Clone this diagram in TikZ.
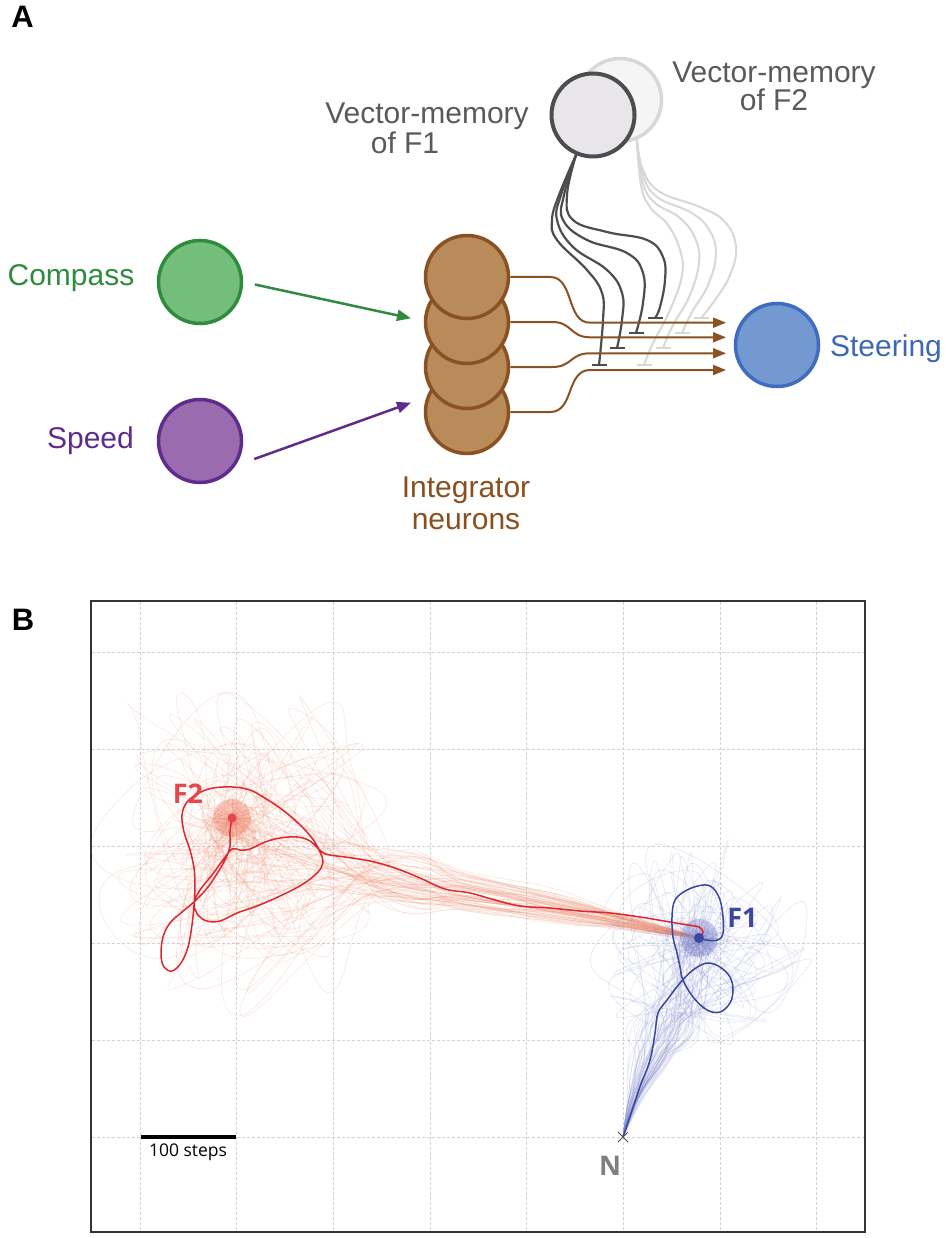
\documentclass[tikz,border=0pt]{standalone}
\usepackage{fontspec}
\setmainfont{Liberation Sans}
\newfontfamily\osf{Open Sans}
\usetikzlibrary{arrows.meta}
\definecolor{cgreen}{HTML}{2F8C3E}
\definecolor{cgreenf}{HTML}{74BE7B}
\definecolor{cpurp}{HTML}{5E2D8C}
\definecolor{cpurpf}{HTML}{9A6BAE}
\definecolor{cbrown}{HTML}{8A5222}
\definecolor{cbrownf}{HTML}{B98B58}
\definecolor{cbrownt}{HTML}{8A4F1D}
\definecolor{cblue}{HTML}{3F6CBF}
\definecolor{cbluef}{HTML}{7399D0}
\definecolor{cbluet}{HTML}{3D68B8}
\definecolor{cgrayd}{HTML}{4D4D4F}
\definecolor{cgrayf}{HTML}{E8E6E8}
\definecolor{cgrayl}{HTML}{D8D8D8}
\definecolor{cgraylf}{HTML}{F5F5F5}
\definecolor{ctext}{HTML}{5A5A5C}
\definecolor{cred}{HTML}{E0272C}
\definecolor{credl}{HTML}{E2484E}
\definecolor{credfaint}{HTML}{F08A6A}
\definecolor{cnavy}{HTML}{3B46A0}
\definecolor{cnavyfaint}{HTML}{7F86CC}
\definecolor{cgrid}{HTML}{D2D2D2}
\definecolor{cN}{HTML}{7F7F7F}
\begin{document}
\begin{tikzpicture}[x=1pt,y=-1pt,
  circ/.style={circle,minimum size=83pt,inner sep=0pt,line width=3.5pt},
  big/.style={font=\fontsize{30}{34}\selectfont,inner sep=0pt,anchor=base},
  panellbl/.style={font=\fontsize{31}{34}\selectfont\bfseries,inner sep=0pt},
  brownarr/.style={draw=cbrown,line width=2pt,-{Triangle[length=13pt,width=10pt]}},
  inhd/.style={draw=cgrayd,line width=2.2pt},
  inhl/.style={draw=cgrayl,line width=2pt},
  gridst/.style={draw=cgrid,line width=0.9pt,dash pattern=on 3pt off 2pt},
  faintred/.style={draw=credfaint,line width=0.6pt,opacity=0.2},
  faintblue/.style={draw=cnavyfaint,line width=0.6pt,opacity=0.2},
  boldred/.style={draw=cred,line width=1.5pt},
  boldblue/.style={draw=cnavy,line width=1.5pt},
  blbl/.style={font=\osf\bfseries\fontsize{27}{30}\selectfont,inner sep=0pt}
]
\useasboundingbox (0,0) rectangle (945,1238);
\fill[white] (0,0) rectangle (945,1238);

% ---------------- Panel A ----------------
\node[panellbl] (labA) at (22.5,17) {A};

% vector memory of F2 (behind)
\node[circ,draw=cgrayl,fill=cgraylf] (m2) at (620,100) {};
\draw[inhl] plot[smooth,tension=0.7] coordinates {(m2.-67) (643,170) (660,192) (700,207) (725,222) (736,247) (730,275) (715,300) (701,318)};
\draw[inhl] plot[smooth,tension=0.7] coordinates {(m2.-67) (643,175) (657,197) (690,212) (708,228) (716,253) (708,285) (692,312) (682,333)};
\draw[inhl] plot[smooth,tension=0.7] coordinates {(m2.-67) (642,180) (654,202) (680,218) (695,238) (699,262) (690,295) (673,325) (663,348)};
\draw[inhl] plot[smooth,tension=0.7] coordinates {(m2.-67) (641,185) (650,207) (668,225) (680,250) (682,275) (670,310) (653,343) (644,365)};
\coordinate (lb1) at (701,318);
\coordinate (lb2) at (682,333);
\coordinate (lb3) at (663,348);
\coordinate (lb4) at (644,365);
\foreach \b in {lb1,lb2,lb3,lb4} \draw[inhl] (\b) ++(-7.5,0) -- ++(15,0);

% vector memory of F1
\node[circ,draw=cgrayd,fill=cgrayf,line width=4pt] (m1) at (593,115) {};
\draw[inhd] plot[smooth,tension=0.7] coordinates {(m1.-113) (567,195) (573,220) (607,232) (647,240) (663,257) (665,280) (660,307) (655,318)};
\draw[inhd] plot[smooth,tension=0.7] coordinates {(m1.-113) (564,195) (563,220) (587,240) (627,253) (643,273) (643,303) (636,333)};
\draw[inhd] plot[smooth,tension=0.7] coordinates {(m1.-113) (561,195) (557,220) (573,247) (607,270) (622,293) (622,320) (617,348)};
\draw[inhd] plot[smooth,tension=0.7] coordinates {(m1.-113) (559,195) (552,220) (557,240) (587,270) (602,293) (603,320) (599,365)};
\coordinate (db1) at (655,318);
\coordinate (db2) at (636,333);
\coordinate (db3) at (617,348);
\coordinate (db4) at (599,365);
\foreach \b in {db1,db2,db3,db4} \draw[inhd] (\b) ++(-7.5,0) -- ++(15,0);

% input circles
\node[circ,draw=cgreen,fill=cgreenf] (compass) at (200,282) {};
\node[circ,draw=cpurp,fill=cpurpf] (speed) at (200,441) {};
\foreach \n/\yy in {4/412,3/367,2/322,1/277}
  \node[circ,draw=cbrown,fill=cbrownf] (int\n) at (467,\yy) {};
\node[circ,draw=cblue,fill=cbluef] (steer) at (777,345) {};

% input arrows
\coordinate (g1) at (411,318.3);
\coordinate (p1) at (411,402.7);
\draw[draw=cgreen,line width=2.5pt,shorten <=12pt,-{Triangle[length=14pt,width=11pt]}] (compass.east) -- (g1);
\draw[draw=cpurp,line width=2.5pt,shorten <=20pt,-{Triangle[length=14pt,width=11pt]}] (speed.-35) -- (p1);

% integrator -> steering
\coordinate (a1) at (726,322.7);
\coordinate (a2) at (726,337.3);
\coordinate (a3) at (726,353.3);
\coordinate (a4) at (726,370);
\draw[brownarr] (int1.east) -- ++(40,0) .. controls +(24,0) and +(-24,0) .. (590,322.7) -- (a1);
\draw[brownarr] (int2.east) -- ++(42,0) .. controls +(20,0) and +(-20,0) .. (590,337.3) -- (a2);
\draw[brownarr] (int3.east) -- ++(42,0) .. controls +(20,0) and +(-20,0) .. (590,353.3) -- (a3);
\draw[brownarr] (int4.east) -- ++(40,0) .. controls +(24,0) and +(-24,0) .. (590,370) -- (a4);

% labels
\node[big,text=cgreen] (tcomp) at (71,286) {Compass};
\node[big,text=cpurp] (tspeed) at (90.5,448) {Speed};
\node[big,text=cbrownt] (tint1) at (466,497) {Integrator};
\node[big,text=cbrownt] (tint2) at (466,529) {neurons};
\node[big,text=cbluet] (tsteer) at (886,356) {Steering};
\node[big,text=ctext] (tm1a) at (427,124) {Vector-memory};
\node[big,text=ctext] (tm1b) at (405,154) {of F1};
\node[big,text=ctext] (tm2a) at (774,83) {Vector-memory};
\node[big,text=ctext] (tm2b) at (774,111) {of F2};

% ---------------- Panel B ----------------
\node[panellbl] (labB) at (23,620) {B};
\foreach \i in {0,...,7} \draw[gridst] ({140+96.7*\i},602) -- ({140+96.7*\i},1231);
\foreach \j in {0,...,5} \draw[gridst] (92,{652+97*\j}) -- (864,{652+97*\j});
\draw[line width=1.5pt,draw=black!80] (91,601) rectangle (865,1232);

\coordinate (F1) at (699,938);
\coordinate (F2) at (232,818);
\coordinate (N) at (623,1137);

\pgfmathsetseed{7}
% faint red trajectories (F1 -> F2 searches)
\foreach \k in {1,...,85}{
  \pgfmathsetmacro\off{rand}
  \pgfmathsetmacro\ya{925+5*\off+3*rand}
  \pgfmathsetmacro\yb{908+13*\off+5*rand}
  \pgfmathsetmacro\yc{892+18*\off+6*rand}
  \pgfmathsetmacro\yd{876+24*\off+8*rand}
  \pgfmathsetmacro\ra{150*rnd^0.8}\pgfmathsetmacro\ta{360*rnd}
  \pgfmathsetmacro\xe{250+\ra*cos(\ta)}\pgfmathsetmacro\ye{845+1.15*\ra*sin(\ta)}
  \pgfmathsetmacro\rb{145*rnd^0.8}\pgfmathsetmacro\tb{360*rnd}
  \pgfmathsetmacro\xf{245+\rb*cos(\tb)}\pgfmathsetmacro\yf{840+1.15*\rb*sin(\tb)}
  \pgfmathsetmacro\rc{115*rnd}\pgfmathsetmacro\tc{360*rnd}
  \pgfmathsetmacro\xg{240+\rc*cos(\tc)}\pgfmathsetmacro\yg{838+1.1*\rc*sin(\tc)}
  \pgfmathsetmacro\xh{232+25*rand}\pgfmathsetmacro\yh{828+15*rand}
  \draw[faintred] plot[smooth,tension=0.8] coordinates {(F1) (640,\ya) (560,\yb) (470,\yc) (380,\yd) (\xe,\ye) (\xf,\yf) (\xg,\yg) (\xh,\yh) (F2)};
}
% faint blue trajectories (N -> F1 searches)
\foreach \k in {1,...,75}{
  \pgfmathsetmacro\off{rand}
  \pgfmathsetmacro\xa{634+6*\off+3*rand}
  \pgfmathsetmacro\xb{650+16*\off+6*rand}
  \pgfmathsetmacro\xc{670+30*\off+8*rand}
  \pgfmathsetmacro\ra{112*rnd^0.8}\pgfmathsetmacro\ta{360*rnd}
  \pgfmathsetmacro\xe{700+\ra*cos(\ta)}\pgfmathsetmacro\ye{945+\ra*sin(\ta)}
  \pgfmathsetmacro\rb{100*rnd}\pgfmathsetmacro\tb{360*rnd}
  \pgfmathsetmacro\xf{700+\rb*cos(\tb)}\pgfmathsetmacro\yf{945+\rb*sin(\tb)}
  \pgfmathsetmacro\xh{699+18*rand}\pgfmathsetmacro\yh{945+14*rand}
  \draw[faintblue] plot[smooth,tension=0.8] coordinates {(N) (\xa,1100) (\xb,1060) (\xc,1015) (\xe,\ye) (\xf,\yf) (\xh,\yh) (F1)};
}

% halos
\fill[credfaint,opacity=0.4] (F2) circle[radius=19pt];
\foreach \a in {0,15,...,345} \draw[draw=credl,opacity=0.2,line width=0.5pt] (F2) -- ++(\a:19);
\fill[cnavyfaint,opacity=0.4] (F1) circle[radius=19pt];
\foreach \a in {0,15,...,345} \draw[draw=cnavy,opacity=0.15,line width=0.5pt] (F1) -- ++(\a:19);

% bold red trajectory
\draw[boldred] plot[smooth,tension=0.6] coordinates {(F1) (703,932) (699,927) (688,925) (670,922) (640,917) (610,913) (580,911) (550,908) (520,906) (495,900) (470,893) (445,889) (420,878) (395,868) (370,861) (345,857) (330,855) (322,852) (310,841) (297,837) (280,838) (265,842) (250,849) (240,850) (232,849) (223,860) (212,875) (200,890) (194,903) (198,915) (207,921) (220,921) (237,913) (257,906) (280,896) (303,884) (318,872) (323,862) (320,852) (312,838) (297,822) (280,808) (263,797) (250,790) (233,787) (213,788) (199,793) (187,802) (182,815) (184,832) (190,850) (194,868) (195,886) (194,905) (192,925) (188,947) (181,963) (172,971) (164,967) (161,955) (163,937) (170,923) (182,912) (195,901) (208,887) (218,872) (226,858) (230,846) (230,832) (F2)};

% bold blue trajectory
\draw[boldblue] plot[smooth,tension=0.6] coordinates {(N) (630,1116.7) (640,1086.7) (650,1060) (655,1033) (658,1013) (667,1000) (680,983) (693,970) (707,963) (720,967) (730,977) (733,990) (730,1003) (720,1012) (707,1010) (693,997) (683,980) (680,967) (677,953) (673,937) (672,917) (675,900) (687,890) (703,885) (713,888) (720,900) (723,917) (723,933) (718,940) (706,940) (F1)};

% goal dots
\fill[credl] (F2) circle[radius=4.5pt];
\fill[cnavy] (F1) circle[radius=5pt];

% nest marker
\draw[draw=cgrayd,line width=1pt] (N) ++(-5,-5) -- ++(10,10);
\draw[draw=cgrayd,line width=1pt] (N) ++(-5,5) -- ++(10,-10);

% labels B
\node[blbl,text=credl] (lF2) at (188,794) {F2};
\node[blbl,text=cnavy] (lF1) at (742.5,918) {F1};
\node[blbl,text=cN] (lN) at (610,1166) {N};

% scale bar
\coordinate (s0) at (140.7,1136.7);
\coordinate (s1) at (235.7,1136.7);
\draw[line width=4pt] (s0) -- (s1);
\node[font=\osf\fontsize{17.5}{20}\selectfont,anchor=base,inner sep=0pt] (tsb) at (188,1156.5) {100 steps};
\end{tikzpicture}
\end{document}
